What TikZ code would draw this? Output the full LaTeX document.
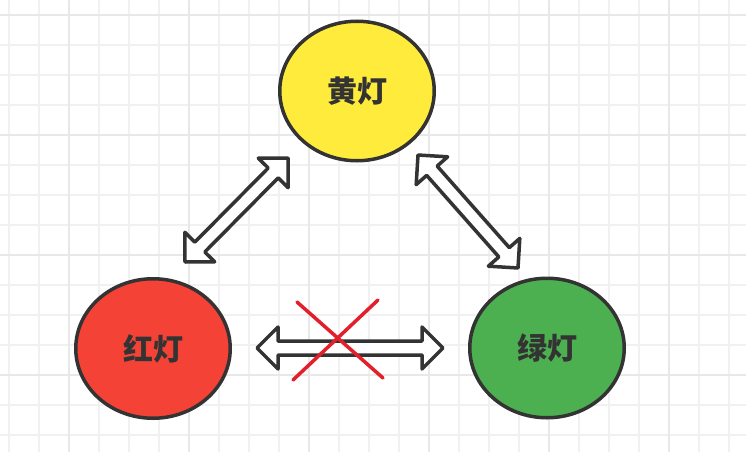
\documentclass[tikz,border=0pt]{standalone}
\usepackage{fontspec}
\newfontfamily\cjk{Noto Sans CJK SC}
\usetikzlibrary{shapes.geometric,calc}
\definecolor{inkc}{HTML}{333333}
\definecolor{yellowc}{HTML}{FFEB3B}
\definecolor{redc}{HTML}{F44336}
\definecolor{greenc}{HTML}{4CAF50}
\definecolor{crossc}{HTML}{E21F2B}
\definecolor{minorgrid}{HTML}{F1F1F1}
\definecolor{majorgrid}{HTML}{E8E8E8}
\tikzset{
  lamp/.style={ellipse, draw=inkc, line width=3.5pt, inner sep=0pt,
    minimum width=154.5pt, minimum height=139.5pt,
    font=\cjk\bfseries\fontsize{30}{30}\selectfont, text=inkc},
  hollowarr/.style={draw=inkc, fill=white, line width=3.5pt, line join=round},
  crossline/.style={draw=crossc, line width=3.5pt, line cap=round}
}
\newcommand\hollowarrow[2]{%
  \path[hollowarr] (#1)
   -- ($(#1)!21pt!(#2)!21pt!90:(#2)$)
   -- ($(#1)!21pt!(#2)!7pt!90:(#2)$)
   -- ($(#2)!21pt!(#1)!7pt!-90:(#1)$)
   -- ($(#2)!21pt!(#1)!21pt!-90:(#1)$)
   -- (#2)
   -- ($(#2)!21pt!(#1)!21pt!90:(#1)$)
   -- ($(#2)!21pt!(#1)!7pt!90:(#1)$)
   -- ($(#1)!21pt!(#2)!7pt!-90:(#2)$)
   -- ($(#1)!21pt!(#2)!21pt!-90:(#2)$)
   -- cycle;}
\begin{document}
\begin{tikzpicture}[x=1pt,y=-1pt]
  \fill[white] (0,0) rectangle (746,452);
  \useasboundingbox (0,0) rectangle (746,452);
  % grid
  \foreach \gx in {9,39,...,729} \draw[minorgrid, line width=1.5pt] (\gx,0) -- (\gx,452);
  \foreach \gy in {15,45,...,435} \draw[minorgrid, line width=1.5pt] (0,\gy) -- (746,\gy);
  \foreach \gx in {69,189,...,669} \draw[majorgrid, line width=2pt] (\gx,0) -- (\gx,452);
  \foreach \gy in {15,135,...,375} \draw[majorgrid, line width=2pt] (0,\gy) -- (746,\gy);
  % lamps
  \node[lamp, fill=yellowc] (yellow) at (357,91) {黄灯};
  \node[lamp, fill=redc] (red) at (153,348.5) {红灯};
  \node[lamp, fill=greenc] (green) at (547,348) {绿灯};
  % arrow ends
  \coordinate (ry1) at (185,262);
  \coordinate (ry2) at (288,158);
  \coordinate (yg1) at (418,155);
  \coordinate (yg2) at (518,268);
  \coordinate (rg1) at (257,348);
  \coordinate (rg2) at (443,348);
  \hollowarrow{ry1}{ry2}
  \hollowarrow{yg1}{yg2}
  \hollowarrow{rg1}{rg2}
  % cross
  \coordinate (x1) at (297,302);
  \coordinate (x2) at (383,378);
  \coordinate (x3) at (378,300);
  \coordinate (x4) at (293,380);
  \draw[crossline] (x1) -- (x2);
  \draw[crossline] (x3) -- (x4);
\end{tikzpicture}
\end{document}
